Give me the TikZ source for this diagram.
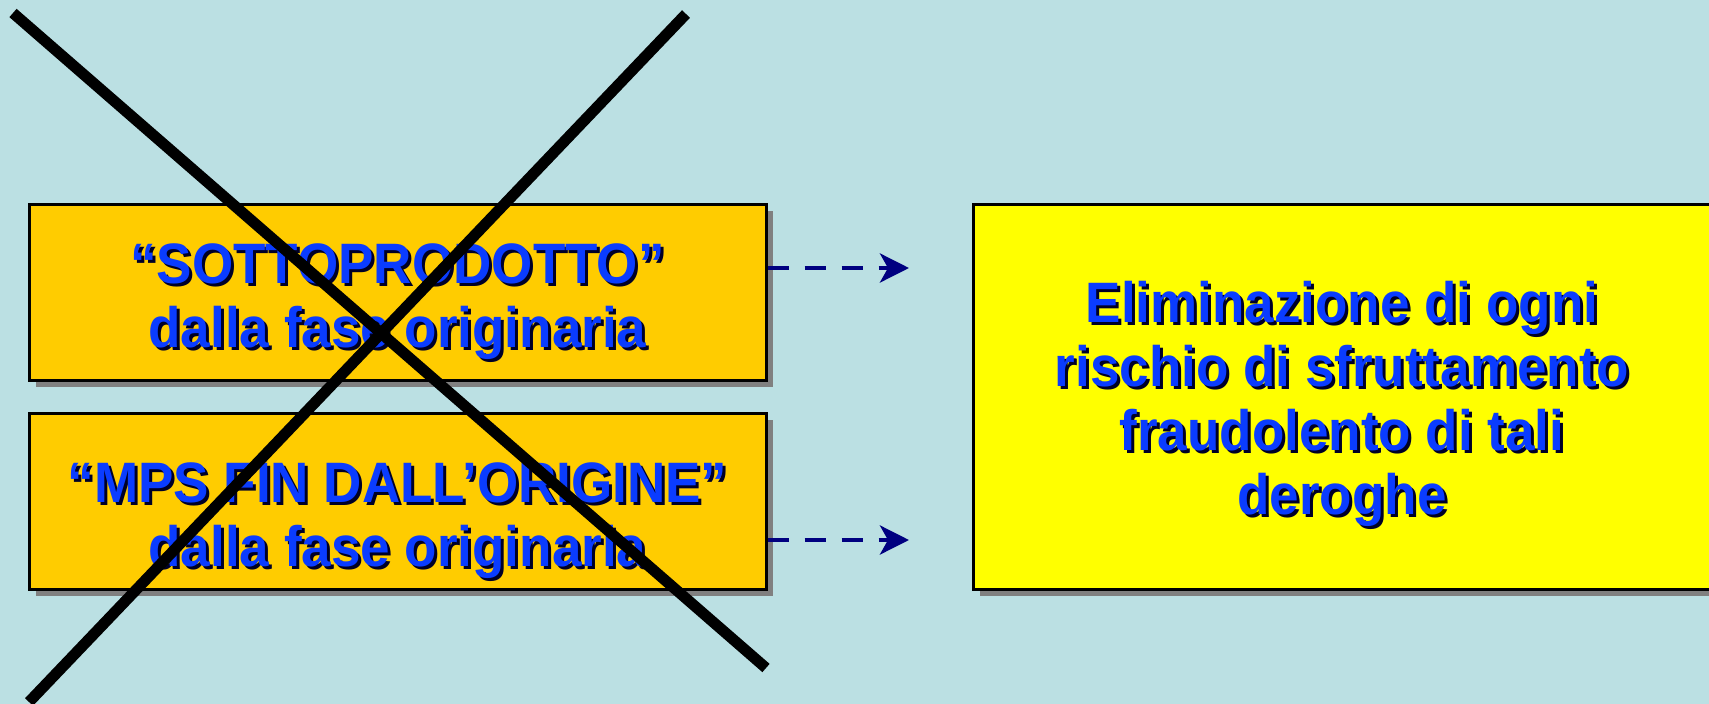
\documentclass[tikz,border=0pt]{standalone}
\usepackage{fontspec}
\setmainfont{Liberation Sans}[FakeStretch=0.93]
\usetikzlibrary{shadows,arrows.meta}
\definecolor{bgc}{HTML}{BBE0E3}
\definecolor{orangebox}{HTML}{FFCC00}
\definecolor{yellowbox}{HTML}{FFFF00}
\definecolor{txtblue}{HTML}{0A3CFF}
\definecolor{arrnavy}{HTML}{000080}
\tikzset{
  boxbase/.style={draw=black, line width=3pt, inner sep=0pt, rectangle,
    drop shadow={shadow xshift=7pt, shadow yshift=-7pt, fill=gray, opacity=1}},
  lbox/.style={boxbase, fill=orangebox, minimum width=737pt, minimum height=176pt},
  rbox/.style={boxbase, fill=yellowbox, minimum width=747pt, minimum height=385pt},
  txt/.style={align=center, inner sep=0pt, text=txtblue,
    font=\fontsize{57}{64}\selectfont\bfseries},
  txtshadow/.style={txt, text=black!85!blue},
  dasharrow/.style={draw=arrnavy, line width=4.5pt, dash pattern=on 21pt off 16pt,
    -{Stealth[length=29pt, width=29pt, inset=8pt]}},
  cross/.style={draw=black, line width=11pt, line cap=butt}
}
\begin{document}
\begin{tikzpicture}[x=1pt, y=-1pt]
  \fill[bgc] (0,0) rectangle (1709,704);
  \clip (0,0) rectangle (1709,704);
  % boxes
  \node[lbox] (b1) at (397.5,292) {};
  \node[lbox] (b2) at (397.5,501) {};
  \node[rbox] (b3) at (1346.5,396.5) {};
  % texts
  \node[txtshadow] (t1s) at (400.5,305) {“SOTTOPRODOTTO”\\dalla fase originaria};
  \node[txt] (t1) at (397.5,302) {“SOTTOPRODOTTO”\\dalla fase originaria};
  \node[txtshadow] (t2s) at (400.5,524) {“MPS FIN DALL’ORIGINE”\\dalla fase originaria};
  \node[txt] (t2) at (397.5,521) {“MPS FIN DALL’ORIGINE”\\dalla fase originaria};
  \node[txtshadow] (t3s) at (1345,407) {Eliminazione di ogni\\rischio di sfruttamento\\fraudolento di tali\\deroghe};
  \node[txt] (t3) at (1342,404) {Eliminazione di ogni\\rischio di sfruttamento\\fraudolento di tali\\deroghe};
  % arrows
  \coordinate (e1) at (909,268);
  \coordinate (e2) at (909,540);
  \draw[dasharrow] (b1.east |- e1) -- (e1);
  \draw[dasharrow] (b2.east |- e2) -- (e2);
  % cross
  \coordinate (c1a) at (13,13);
  \coordinate (c1b) at (766,668);
  \coordinate (c2a) at (686,14);
  \coordinate (c2b) at (29,702);
  \draw[cross] (c1a) -- (c1b);
  \draw[cross] (c2a) -- (c2b);
\end{tikzpicture}
\end{document}
